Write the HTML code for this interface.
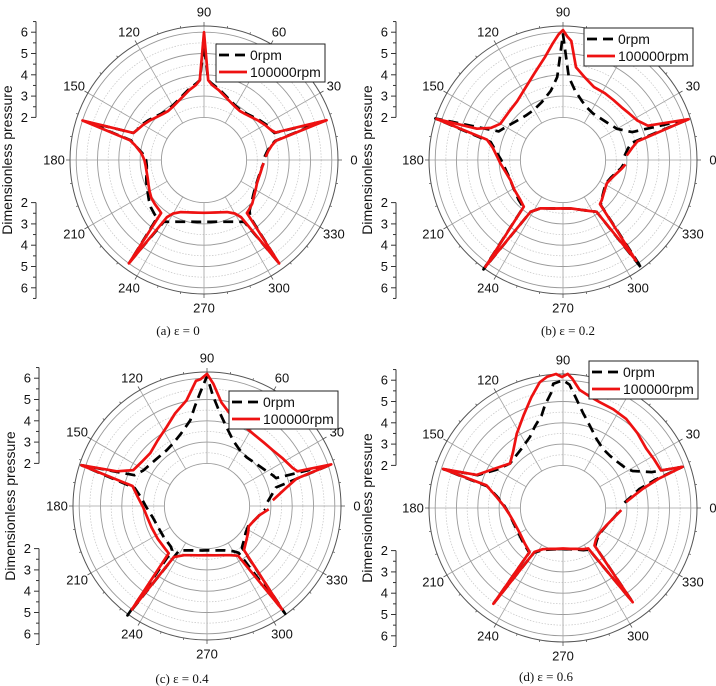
<!DOCTYPE html>
<html><head><meta charset="utf-8"><style>
html,body{margin:0;padding:0;background:#fff;}
svg{display:block;font-family:"Liberation Sans",sans-serif;}
</style></head><body>
<svg id="fig" width="716" height="686" viewBox="0 0 716 686" xmlns="http://www.w3.org/2000/svg"></svg>
<script>
// Panel (a) eps=0
const aAngles0 = [3,8,12,15,18,21,24,30,36,42,48,54,60,66,72,78,84,87,90,93,96,102,108,114,120,126,132,138,144,150,156,159,162,165,168,174,180,186,192,198,204,210,216,222,228,231,234,237,240,246,252,258,264,270,276,282,288,294,300,303,306,309,312,318,324,330,336,342,348,354,357];
const aRed = [2.9,3.05,3.25,3.5,6.05,3.6,3.45,3.3,3.15,3.0,2.9,2.85,2.9,3.0,3.15,3.35,3.55,3.75,6.0,3.75,3.55,3.35,3.15,3.0,2.9,2.85,2.9,3.0,3.15,3.3,3.45,3.55,6.0,3.6,3.3,2.95,2.8,2.75,2.75,2.78,2.85,2.95,3.05,3.1,3.15,3.2,6.0,3.2,2.9,2.68,2.58,2.52,2.49,2.48,2.49,2.52,2.58,2.68,2.9,3.2,6.0,3.2,3.15,3.05,2.9,2.8,2.72,2.7,2.72,2.76,2.8];
const aBlack = [2.85,3.0,3.2,3.45,5.8,3.55,3.45,3.35,3.2,3.05,2.95,2.9,2.95,3.05,3.2,3.4,3.6,3.75,5.4,3.75,3.6,3.4,3.2,3.05,2.95,2.9,2.95,3.05,3.2,3.35,3.45,3.55,5.8,3.55,3.3,2.9,2.72,2.7,2.75,2.85,2.95,3.05,3.2,3.35,3.45,3.5,5.9,3.45,3.35,3.17,3.05,2.96,2.92,2.9,2.92,2.96,3.05,3.17,3.35,3.45,5.9,3.45,3.2,3.0,2.85,2.75,2.7,2.68,2.7,2.75,2.8];
// Panel (b) eps=0.2
const bRedAngles = [4,10,14,18,22,28,35,42,50,58,67,75,82,86,88,90,92,95,100,108,118,128,138,150,156,160,162,165,170,177,183,192,201,212,223,230,234,238,245,252,260,270,280,288,295,303,306,310,314,322,332,340,346,352,356];
const bRed = [3.0,3.3,3.6,6.2,4.3,3.95,3.8,3.7,3.68,3.7,3.72,4.0,4.4,5.6,5.8,6.1,5.9,5.5,4.9,4.3,3.8,3.5,3.4,3.4,3.7,4.3,6.25,3.7,3.35,3.1,2.95,2.75,2.64,2.68,2.74,2.86,6.2,2.87,2.5,2.39,2.31,2.27,2.31,2.45,2.62,2.9,5.85,2.7,2.62,2.45,2.33,2.45,2.6,2.8,2.94];
const bBlackAngles = [4,10,14,18,22,30,40,50,57,65,72,80,86,90,94,100,110,120,130,140,150,156,162,166,172,180,188,198,210,222,230,234,238,245,252,260,270,280,288,295,303,306,310,316,324,332,340,346,352,356];
const bBlack = [2.9,3.1,3.33,6.2,3.5,2.93,2.72,2.62,2.6,2.7,2.9,3.3,3.9,5.9,3.9,3.3,2.9,2.72,2.72,2.85,3.1,3.3,6.3,3.5,3.2,2.9,2.75,2.65,2.68,2.8,2.9,6.35,2.87,2.5,2.39,2.31,2.27,2.31,2.45,2.62,2.9,6.3,2.75,2.55,2.38,2.3,2.4,2.55,2.75,2.85];
// Panel (c) eps=0.4
const cRedAngles = [5,13,17,18.5,21,24,32,40,48,57,66,76,82,87,90,93,95,101,109,117,127,137,146,154,159,162,165,172,181,191,201,214,227,231,234,237,245,252,260,270,280,288,295,302,306,310,319,327,334,342,350,357];
const cRed = [3.1,3.82,4.4,6.15,4.55,4.4,4.2,4.05,4.0,4.02,4.15,4.46,4.9,5.74,6.2,5.95,5.9,5.05,4.6,4.17,3.85,3.64,3.7,3.85,4.54,6.2,3.62,3.3,3.0,2.85,2.79,2.78,2.82,2.86,6.0,2.86,2.55,2.43,2.35,2.31,2.35,2.43,2.55,2.75,6.0,2.7,2.45,2.3,2.18,2.3,2.5,2.9];
const cBlackAngles = [4,10,15,18.5,22,25,32,40,51,60,68,76,82,87,90,93.7,97,101,110,118,126,138,151,157,162,166,172,181,192,204,216,228,232,234,238,248,256,264,270,276,284,292,300,304,306,310,318,326,334,342,350,357];
const cBlack = [2.85,3.1,3.35,6.1,3.5,3.41,3.2,3.05,2.95,3.05,3.3,3.81,4.4,5.2,6.1,5.28,4.7,4.1,3.6,3.35,3.23,3.25,3.43,3.7,6.2,3.5,3.15,2.85,2.6,2.5,2.5,2.55,2.65,6.35,2.45,2.25,2.15,2.1,2.08,2.1,2.15,2.25,2.45,2.65,6.25,2.55,2.35,2.2,2.15,2.3,2.5,2.75];
// Panel (d) eps=0.6
const dRedAngles = [5.4,10,13.6,17,19,21,28,35.5,45,54.7,63,71,77,82,86,88,90.5,93,97,100.5,106,113,122,131.8,140,150,159,162,163.5,170,177.5,186,196,210,223,232.8,234,237,244,252,260,270,280,288,296,302,306.5,310,316,322,330,338,348,358];
const dRed = [2.98,3.4,3.86,4.7,5.94,4.93,4.85,4.8,4.95,5.13,5.2,5.26,5.4,5.6,6.1,6.3,6.15,6.3,6.2,6.0,5.4,4.73,4.1,3.52,3.25,3.7,4.34,5.92,3.75,3.2,2.8,2.55,2.4,2.35,2.45,2.59,5.56,2.46,2.15,2.02,1.95,1.9,1.95,2.02,2.15,2.24,5.5,2.3,2.15,2.08,2.1,2.19,2.4,2.74];
const dBlackAngles = [5,10,14,17,19,22,28,32,40,48,56,64,72,78,83,87,90,94.5,95.7,100,103,109,115,125,140,150,159,162,164,170,178,186,196,210,223,232.8,234,237,244,252,260,270,280,288,296,302,306.5,310,316,322,330,338,348,358];
const dBlack = [2.9,3.3,3.7,4.5,5.94,4.5,3.7,3.5,3.35,3.3,3.35,3.6,4.07,4.55,5.16,5.8,6.0,5.85,5.46,4.9,4.46,4.05,3.68,3.4,3.25,3.6,4.3,5.9,3.7,3.15,2.75,2.55,2.43,2.4,2.5,2.62,5.5,2.5,2.2,2.05,1.97,1.92,1.97,2.05,2.2,2.3,5.45,2.35,2.2,2.12,2.12,2.2,2.4,2.7];

const angleTicks = [0,30,60,90,120,150,180,210,240,270,300,330];
const axisTicks = [2,3,4,5,6];
const legendLabels = ["0rpm","100000rpm"];

const NS = "http://www.w3.org/2000/svg";
const svg = document.getElementById("fig");
const K = 21.3, ROUT = 134;
function mk(tag, attrs, parent){ const e=document.createElementNS(NS,tag); for(const k in attrs) e.setAttribute(k,attrs[k]); (parent||svg).appendChild(e); return e; }
function rScale(v){ return v*K; }
function px(cx,deg,r){ return cx + r*Math.cos(deg*Math.PI/180); }
function py(cy,deg,r){ return cy - r*Math.sin(deg*Math.PI/180); }

const panels = [
 {id:"a", cx:204, cy:160, ax:36, legend:[216,44], cap:"(a) ", eps:"0", capX:178, capY:331, series:[[aAngles0,aBlack],[aAngles0,aRed]]},
 {id:"b", cx:563, cy:160, ax:396, legend:[584,28], cap:"(b) ", eps:"0.2", capX:568, capY:331, series:[[bBlackAngles,bBlack],[bRedAngles,bRed]]},
 {id:"c", cx:207, cy:506, ax:39, legend:[229,391], cap:"(c) ", eps:"0.4", capX:182, capY:679, series:[[cBlackAngles,cBlack],[cRedAngles,cRed]]},
 {id:"d", cx:563, cy:508, ax:396, legend:[589,361], cap:"(d) ", eps:"0.6", capX:546, capY:677, series:[[dBlackAngles,dBlack],[dRedAngles,dRed]]}
];

panels.forEach(p=>{
  const g = mk("g",{});
  
  
  for(let v=2; v<=6.01; v+=0.5){
    const c = mk("circle",{cx:p.cx,cy:p.cy,r:rScale(v),fill:"none",stroke:Number.isInteger(v)?"#999":"#c4c4c4","stroke-width":Number.isInteger(v)?0.9:0.7,"stroke-dasharray":Number.isInteger(v)?"":"1.5,1.5"},g);
    
    
  }
  angleTicks.forEach(a=>{
    const l = mk("line",{x1:px(p.cx,a,rScale(2)),y1:py(p.cy,a,rScale(2)),x2:px(p.cx,a,ROUT),y2:py(p.cy,a,ROUT),stroke:"#a0a0a0","stroke-width":0.8},g);
    
    
  });
  for(let a=0;a<360;a+=10){
    const t = mk("line",{x1:px(p.cx,a,ROUT),y1:py(p.cy,a,ROUT),x2:px(p.cx,a,ROUT+(a%30?2:4)),y2:py(p.cy,a,ROUT+(a%30?2:4)),stroke:"#555","stroke-width":0.8},g);
    
    
  }
  const oc = mk("circle",{cx:p.cx,cy:p.cy,r:ROUT,fill:"none",stroke:"#555","stroke-width":1},g);
  
  
  angleTicks.forEach(a=>{
    const t = mk("text",{x:px(p.cx,a,150),y:py(p.cy,a,148)+4.5,"font-size":13,"text-anchor":"middle",fill:"#111"},g);
    t.textContent = a;
    
    
  });
  [-1,1].forEach(s=>{
    const y0 = p.cy + s*rScale(2), y1 = p.cy + s*rScale(6.5);
    const l = mk("line",{x1:p.ax,y1:y0,x2:p.ax,y2:y1,stroke:"#333","stroke-width":1},g);
    
    
    for(let v=2; v<=6.51; v+=0.5){
      const y = p.cy + s*rScale(v);
      const tk = mk("line",{x1:p.ax,y1:y,x2:p.ax-(Number.isInteger(v)?5:3),y2:y,stroke:"#333","stroke-width":1},g);
      
      
    }
    axisTicks.forEach(v=>{
      const t = mk("text",{x:p.ax-8,y:p.cy+s*rScale(v)+4.5,"font-size":13,"text-anchor":"end",fill:"#111"},g);
      t.textContent = v;
      
      
    });
  });
  const yt = mk("text",{x:0,y:0,"font-size":14,"text-anchor":"middle",fill:"#111",transform:`translate(${p.ax-24},${p.cy}) rotate(-90)`},g);
  yt.textContent = "Dimensionless pressure";
  
  
  p.series.forEach((s,i)=>{
    const [angs, vals] = s;
    const pts = angs.map((a,j)=>px(p.cx,a,rScale(vals[j])).toFixed(1)+","+py(p.cy,a,rScale(vals[j])).toFixed(1)).join(" ");
    const pl = mk("polyline",{points:pts,fill:"none",stroke:i?"#ee1111":"#000","stroke-width":2.7,"stroke-dasharray":i?"":"10,6","stroke-linejoin":"round"},g);
    
    
  });
  const [lx,ly] = p.legend;
  const lg = mk("g",{},g);
  
  
  mk("rect",{x:lx,y:ly,width:109,height:38,fill:"#fff",stroke:"#222","stroke-width":1},lg);
  legendLabels.forEach((lab,i)=>{
    const yy = ly+11+i*17;
    const ls = mk("line",{x1:lx+3,y1:yy,x2:lx+31,y2:yy,stroke:i?"#ee1111":"#000","stroke-width":2.7,"stroke-dasharray":i?"":"10,6"},lg);
    
    
    const t = mk("text",{x:lx+34,y:yy+5,"font-size":14,fill:"#111"},lg);
    t.textContent = lab;
    
    
  });
  const cap = mk("text",{x:p.capX,y:p.capY+4,"font-size":13,"text-anchor":"middle",fill:"#111","font-family":"Liberation Serif, serif"},g);
  cap.textContent = p.cap + "ε = " + p.eps;
  
  
});
</script>
</body></html>
